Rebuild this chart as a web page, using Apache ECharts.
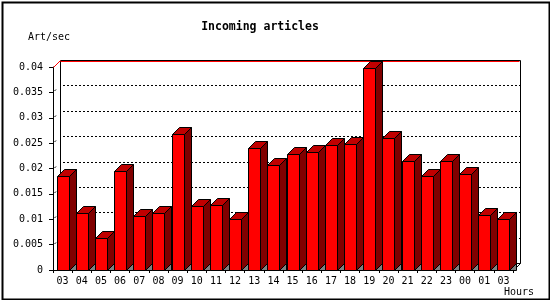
<!DOCTYPE html>
<html>
<head>
<meta charset="utf-8">
<script src="https://cdn.jsdelivr.net/npm/echarts@6/dist/echarts.min.js"></script>
<style>html,body{margin:0;padding:0;background:#fff}#c{width:550px;height:300px}</style>
</head>
<body>
<div id="c"></div>
<script>
var categories = ['03','04','05','06','07','08','09','10','11','12','13','14','15','16','17','18','19','20','21','22','23','00','01','03'];
var articlesPerSec = [0.0185,0.0112,0.0064,0.0195,0.0106,0.0112,0.0268,0.0126,0.0128,0.0100,0.0240,0.0206,0.0229,0.0232,0.0246,0.0248,0.0398,0.0260,0.0214,0.0185,0.0214,0.0189,0.0108,0.0100];
var yTicks = [0.005,0.01,0.015,0.02,0.025,0.03,0.035];
var titleText = 'Incoming articles';
var yName = 'Art/sec';
var xName = 'Hours';

var D = 7;
var FONT = '"DejaVu Sans Mono", "Liberation Mono", monospace';

var chart = echarts.init(document.getElementById('c'), null, {renderer:'canvas'});

function wallRender(params, api) {
  var cs = params.coordSys;
  var L = cs.x, R = cs.x + cs.width, T = cs.y, B = cs.y + cs.height;
  var ch = [];
  yTicks.forEach(function (t) {
    var y = Math.round(api.coord([0, t])[1]) + 0.5;
    ch.push({type:'line', shape:{x1:L+D+3, y1:y-D, x2:R+D, y2:y-D},
      style:{stroke:'#000', lineWidth:1, lineDash:[2,2]}, silent:true});
    ch.push({type:'line', shape:{x1:L+1.5, y1:y-1.5, x2:L+3, y2:y-3},
      style:{stroke:'#000', lineWidth:1}, silent:true});
  });
  var l = Math.round(L) + 0.5, r = Math.round(R) + 0.5, t = Math.round(T) + 0.5, b = Math.round(B) + 0.5;
  ch.push({type:'line', shape:{x1:l+D, y1:b-D, x2:r+D, y2:b-D}, style:{stroke:'#000', lineWidth:1}});
  ch.push({type:'line', shape:{x1:l+D, y1:t-D, x2:l+D, y2:b-D}, style:{stroke:'#000', lineWidth:1}});
  ch.push({type:'line', shape:{x1:r+D, y1:t-D, x2:r+D, y2:b-D}, style:{stroke:'#000', lineWidth:1}});
  ch.push({type:'line', shape:{x1:r+D, y1:b-D, x2:r, y2:b}, style:{stroke:'#000', lineWidth:1}});
  ch.push({type:'line', shape:{x1:l+D, y1:t-D, x2:r+D, y2:t-D}, style:{stroke:'#000', lineWidth:1}});
  ch.push({type:'line', shape:{x1:l+D, y1:t-D+1, x2:r+D-1, y2:t-D+1}, style:{stroke:'#ff0000', lineWidth:1}});
  ch.push({type:'line', shape:{x1:l, y1:t, x2:l+D, y2:t-D}, style:{stroke:'#ff0000', lineWidth:1}});
  return {type:'group', children:ch};
}

function barRender(params, api) {
  var idx = api.value(0), v = api.value(1);
  var top = api.coord([idx, v]);
  var base = api.coord([idx, 0]);
  var bw = api.size([1, 0])[0];
  var w = Math.round(bw * 0.627);
  var x0 = Math.round(top[0] - w / 2) + 0.5;
  var x1 = x0 + w;
  var yt = Math.round(top[1]) + 0.5;
  var yb = Math.round(base[1]) + 0.5;
  var st = {stroke:'#000', lineWidth:1};
  return {type:'group', children:[
    {type:'polygon', shape:{points:[[x1,yb],[x1+D,yb-D],[x1+D,yb]]}, style:{fill:'#808080', stroke:'#000', lineWidth:1}},
    {type:'polygon', shape:{points:[[x1,yt],[x1+D,yt-D],[x1+D,yb-D],[x1,yb]]}, style:Object.assign({fill:'#800000'}, st)},
    {type:'polygon', shape:{points:[[x0,yt],[x0+D,yt-D],[x1+D,yt-D],[x1,yt]]}, style:Object.assign({fill:'#c00000'}, st)},
    {type:'rect', shape:{x:x0, y:yt, width:w, height:yb-yt}, style:Object.assign({fill:'#ff0000'}, st)}
  ]};
}

var barData = articlesPerSec.map(function (v, i) { return [i, v]; });

chart.setOption({
  animation: false,
  backgroundColor: '#fff',
  grid: {left: 53, right: 37, top: 67, bottom: 30, containLabel: false},
  xAxis: {
    type: 'category', data: categories, boundaryGap: true,
    axisLine: {show:true, lineStyle:{color:'#000', width:1}},
    axisTick: {show:true, alignWithLabel:false, length:3, lineStyle:{color:'#000'}},
    axisLabel: {color:'#000', fontFamily:FONT, fontSize:10, margin:6, interval:0},
    splitLine: {show:false}
  },
  yAxis: {
    type: 'value', min: 0, max: 0.04, interval: 0.005,
    axisLine: {show:true, lineStyle:{color:'#000', width:1}},
    axisTick: {show:true, length:4, lineStyle:{color:'#000'}},
    axisLabel: {color:'#000', fontFamily:FONT, fontSize:10, margin:10,
      formatter: function (v) { return String(+v.toFixed(3)); }},
    splitLine: {show:false}
  },
  series: [
    {type:'custom', renderItem: wallRender, data: [[0, 0]], z: 1, silent: true, clip: false},
    {type:'custom', renderItem: barRender, data: barData, encode:{x:0, y:1}, z: 2, clip: false}
  ],
  graphic: [
    {type:'rect', left:0, top:0, shape:{x:1, y:1, width:547, height:297}, style:{fill:'none', stroke:'#000', lineWidth:2}, z:100},
    {type:'text', x:260, y:27, style:{text:titleText, font:'bold 11.5px ' + FONT, fill:'#000', textAlign:'center', textVerticalAlign:'middle'}},
    {type:'text', x:28, y:37, style:{text:yName, font:'10px ' + FONT, fill:'#000', textAlign:'left', textVerticalAlign:'middle'}},
    {type:'text', x:504, y:292, style:{text:xName, font:'10px ' + FONT, fill:'#000', textAlign:'left', textVerticalAlign:'middle'}}
  ]
});
</script>
</body>
</html>
